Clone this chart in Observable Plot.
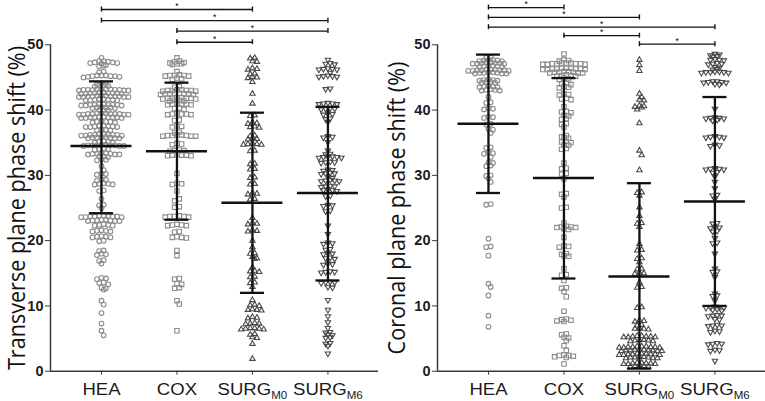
<!DOCTYPE html>
<html><head><meta charset="utf-8">
<script src="https://cdn.jsdelivr.net/npm/d3@7"></script>
<script src="https://cdn.jsdelivr.net/npm/@observablehq/plot@0.6"></script>
<style>
body{margin:0;background:#fff}
#wrap{display:flex;width:765px;height:401px;overflow:hidden}
</style>
</head><body><div id="wrap"></div>
<script>
const groups = ["HEA", "COX", "SURG_M0", "SURG_M6"];
const yTicks = [0, 10, 20, 30, 40, 50];

// ---- Transverse plane phase shift (%) ----
const transHEA = [48.0,
47.5,47.4,47.3,47.5,47.2,47.1,47.3,47.2,
46.8,46.7,46.9,45.9,45.8,
45.2,45.3,45.1,45.2,45.3,45.1,45.2,45.0,45.3,
44.0,44.1,43.9,43.8,43.7,43.8,43.6,
43.1,43.2,43.0,43.1,43.2,43.0,43.1,43.2,43.1,43.0,43.2,43.1,
42.6,42.5,42.7,42.6,42.5,42.6,42.7,42.5,42.6,42.6,
42.1,42.0,42.2,42.1,42.0,42.2,42.1,42.1,42.0,42.2,42.1,42.0,
41.6,41.5,41.7,41.6,41.5,41.6,41.7,41.5,
40.8,40.7,40.9,40.8,40.7,40.8,40.9,40.7,40.8,40.8,
40.4,40.3,40.5,40.4,40.3,40.4,40.0,39.9,40.0,
39.4,39.3,39.5,39.4,39.3,39.4,39.5,39.3,39.4,39.4,39.5,39.3,
38.9,38.8,39.0,38.9,38.8,38.9,39.0,38.8,38.9,38.9,
38.2,38.1,38.3,38.2,38.1,38.2,
37.5,37.4,37.6,37.5,37.4,37.5,37.6,37.4,
37.0,36.9,37.0,36.9,
36.2,36.1,36.3,36.2,36.1,36.2,36.3,36.1,36.2,36.2,
35.8,35.7,35.9,35.8,35.7,35.8,35.9,35.7,
35.1,35.0,35.2,35.1,35.0,
34.6,34.5,34.7,34.6,34.5,34.6,34.7,34.5,34.6,34.6,
34.0,33.9,34.1,34.0,
33.3,33.2,33.4,33.3,33.2,33.3,33.4,33.2,
32.9,32.8,32.9,32.4,32.5,32.3,
31.4,30.8,30.2,30.1,30.3,29.3,29.2,29.4,
28.7,28.6,28.8,28.7,28.6,27.6,27.7,26.4,25.4,25.5,25.0,
23.7,23.6,23.8,23.7,23.6,23.7,23.8,23.6,23.7,23.7,
23.1,23.0,23.2,23.1,23.0,23.1,23.2,23.0,
22.4,22.3,22.5,22.4,22.3,21.5,21.4,21.6,21.5,21.4,
20.6,20.5,20.7,20.6,20.5,20.0,19.9,
18.5,18.4,17.9,17.8,18.0,17.0,16.9,16.5,
14.2,14.1,14.3,13.6,13.5,13.3,12.8,12.7,12.5,
10.8,10.2,8.9,7.3,6.2,5.5];
const transCOX = [48.0,47.4,47.5,47.3,47.1,47.0,47.2,47.1,45.9,
45.3,45.2,45.4,45.3,45.2,45.3,44.8,44.9,44.7,43.6,43.5,
43.0,43.1,42.9,43.0,43.1,42.9,43.0,43.0,
42.5,42.4,42.6,42.5,42.4,42.5,42.6,42.5,
41.8,41.7,41.9,41.8,41.7,41.8,41.9,41.8,41.5,41.4,41.5,41.4,
40.9,40.8,41.0,40.9,40.8,40.9,40.2,40.1,40.3,
39.4,39.3,39.5,39.4,39.3,39.4,38.5,38.4,37.5,37.4,37.6,36.6,36.5,
36.1,36.0,36.2,36.1,36.0,36.1,36.2,36.0,
34.8,34.7,34.9,33.8,33.7,33.9,33.8,
33.1,33.0,33.2,33.1,33.0,33.1,
30.3,28.7,28.6,28.8,27.6,26.4,26.1,25.2,25.1,
23.7,23.6,23.8,23.7,23.6,23.7,22.4,22.3,22.5,22.4,22.3,
21.4,21.3,20.5,20.4,20.6,20.5,18.5,17.7,
14.2,14.1,13.4,13.3,12.8,12.7,10.8,10.3,6.2];
const transM0 = [48.0,47.9,47.5,47.4,46.3,46.2,46.4,45.6,45.5,45.0,44.9,45.1,
44.3,42.5,41.0,39.2,39.1,38.0,37.9,38.1,37.4,37.3,37.5,36.1,36.0,
35.6,35.5,35.7,34.8,34.7,34.9,34.8,34.7,33.8,33.7,31.8,31.7,31.0,30.9,
29.7,29.6,28.7,28.6,27.2,27.1,27.3,26.4,26.3,
23.5,22.6,22.5,22.7,21.6,21.5,21.4,20.0,19.0,18.1,18.0,17.5,17.3,17.2,
15.9,15.3,15.2,15.4,14.5,14.4,13.6,13.5,12.9,10.9,10.1,10.0,10.2,
9.4,9.3,9.5,9.4,8.2,8.1,8.3,7.3,7.2,7.4,7.3,
6.5,6.4,6.6,6.5,6.4,6.6,5.7,5.6,5.2,5.1,4.2,1.9];
const transM6 = [47.7,47.1,47.0,47.2,46.3,46.2,46.4,46.3,46.2,45.7,
45.2,45.1,45.3,45.2,45.1,43.3,43.2,41.0,40.9,41.1,40.9,41.0,
40.2,40.1,40.3,40.2,39.4,39.3,39.5,38.7,38.6,38.2,35.9,35.8,36.0,35.1,
33.8,33.3,33.2,32.8,32.7,32.9,32.8,32.7,32.9,32.0,31.9,32.1,32.0,
30.8,30.7,30.9,30.3,30.2,30.4,30.3,29.7,29.6,29.2,29.1,29.3,29.2,29.1,
28.3,28.2,28.4,28.3,27.7,27.6,27.8,27.7,26.9,26.8,25.4,25.3,25.5,24.6,24.5,
22.3,21.0,19.6,19.5,19.7,18.7,18.6,18.0,17.9,18.1,17.3,17.2,17.4,
16.4,16.3,16.5,15.2,15.1,15.3,15.2,13.6,13.5,13.7,13.6,12.9,12.8,
10.9,9.4,8.4,7.5,6.6,6.0,5.9,5.6,5.5,5.2,5.1,4.3,4.2,3.9,2.7];
const transMean  = [34.5, 33.7, 25.8, 27.3];
const transUpper = [44.4, 44.2, 39.6, 40.5];
const transLower = [24.2, 23.2, 12.0, 13.9];
const transBracketFrom = ["HEA", "HEA", "COX", "COX"];
const transBracketTo   = ["SURG_M0", "SURG_M6", "SURG_M6", "SURG_M0"];
const transBracketY    = [55.4, 53.7, 52.1, 50.4];

// ---- Coronal plane phase shift (%) ----
const corHEA = [48.0,48.1,47.6,47.5,47.7,47.6,47.5,47.7,
47.2,47.1,47.3,47.2,47.1,47.3,47.2,47.1,46.7,46.6,46.8,46.7,46.6,46.8,
46.1,46.0,46.2,46.1,46.0,46.2,46.1,46.0,46.2,46.1,
45.7,45.6,45.8,45.7,45.6,45.8,45.7,45.6,44.6,44.5,44.7,44.6,44.5,
44.3,44.2,44.3,44.2,43.6,43.5,43.7,43.6,43.5,43.1,43.0,43.2,43.1,43.0,
42.0,41.2,41.1,40.2,40.1,40.3,38.9,38.8,39.0,37.9,37.8,37.1,37.0,36.5,
34.3,34.2,33.4,33.3,33.5,32.8,32.0,31.9,31.5,31.4,30.0,29.9,29.5,29.0,
25.6,25.5,20.3,19.0,19.1,17.7,13.4,12.9,11.6,8.5,6.8];
const corCOX = [48.6,47.6,47.5,47.7,47.1,47.0,47.2,47.1,47.0,47.2,47.1,47.0,47.2,47.1,
46.3,46.2,46.4,46.3,46.2,46.4,46.3,46.2,46.4,46.3,45.8,45.7,45.9,45.8,45.7,45.9,45.8,45.7,
45.3,45.2,45.4,45.3,45.2,44.8,44.7,44.9,44.0,43.9,44.1,43.5,43.4,43.6,
42.4,42.3,42.5,41.7,41.6,41.8,40.5,39.7,39.6,39.8,39.2,39.1,38.7,38.6,37.9,37.8,37.4,
36.1,35.8,35.7,35.9,35.1,35.0,35.2,34.7,34.6,34.1,34.0,31.9,31.1,31.0,30.3,30.2,29.5,
27.2,27.1,26.7,25.1,25.0,22.7,22.1,22.0,22.2,22.1,22.0,21.8,21.7,20.5,
19.1,19.0,19.2,18.0,17.9,17.7,17.6,15.7,14.8,14.7,13.9,12.8,12.7,12.2,11.4,9.2,
7.9,7.8,8.0,7.7,7.6,5.7,5.6,5.2,5.1,4.7,3.9,3.2,2.4,2.3,2.5,2.4,2.2,2.1,1.1];
const corM0 = [47.7,46.9,46.0,42.5,42.0,41.6,41.5,40.7,40.5,40.4,40.6,40.1,
38.0,33.8,33.1,30.8,27.4,27.3,26.9,25.1,23.8,22.7,22.6,22.1,
19.5,18.6,18.5,17.3,17.2,16.7,15.7,15.6,15.0,14.9,15.1,13.6,12.9,12.8,9.8,9.7,
7.7,7.6,7.8,7.1,7.0,6.5,6.4,6.6,6.5,
5.3,5.2,5.4,5.3,5.2,5.4,5.3,5.2,4.7,4.6,4.8,4.7,4.6,4.8,
3.7,3.6,3.8,3.7,3.6,3.8,3.7,3.6,3.8,3.7,
3.2,3.1,3.3,3.2,3.1,3.3,3.2,3.1,3.3,3.2,
2.6,2.5,2.7,2.6,2.5,2.7,2.6,2.5,2.7,2.6,
2.1,2.0,2.2,2.1,2.0,2.2,2.1,2.0,
1.2,1.1,1.3,1.2,1.1,1.3,1.2,1.1,0.8,0.7,0.9,0.8,0.7];
const corM6 = [48.5,48.4,48.6,48.3,48.2,47.7,47.6,47.8,47.7,47.1,47.0,47.2,47.1,
46.6,46.5,46.3,46.2,45.8,45.7,45.9,45.8,45.7,45.9,45.8,
44.3,44.2,44.4,44.3,44.2,44.4,44.0,43.9,40.2,
38.8,38.7,38.9,38.8,38.7,38.5,38.4,35.9,35.8,36.0,35.9,35.8,34.6,34.5,34.7,
31.0,30.9,31.1,31.0,30.9,30.5,30.4,29.8,29.0,28.0,27.0,26.9,26.4,
22.7,22.6,22.0,21.9,22.1,21.5,21.4,20.4,19.7,19.6,18.0,
15.7,15.3,15.2,14.4,11.9,11.6,11.5,10.8,
9.8,9.7,9.9,9.8,9.7,9.4,9.3,9.5,8.5,8.4,8.6,8.5,8.0,7.9,
7.0,6.9,7.1,7.0,6.1,6.0,6.2,4.2,4.1,4.3,4.2,3.2,3.1,3.3,1.6];
const corMean  = [37.9, 29.6, 14.5, 26.0];
const corUpper = [48.5, 44.9, 28.8, 42.0];
const corLower = [27.3, 14.2, 0.4, 10.0];
const corBracketFrom = ["HEA", "HEA", "HEA", "COX", "SURG_M0"];
const corBracketTo   = ["COX", "SURG_M0", "SURG_M6", "SURG_M0", "SURG_M6"];
const corBracketY    = [55.7, 54.2, 52.7, 51.4, 50.1];

// inverted triangle symbol
const triangleDown = {
  draw(context, size) {
    const s3 = Math.sqrt(3);
    const y = -Math.sqrt(size / (s3 * 3));
    context.moveTo(0, -y * 2);
    context.lineTo(-s3 * y, y);
    context.lineTo(s3 * y, y);
    context.closePath();
  }
};
const styles = [
  {symbol: "circle", r: 2.35, stroke: "#8c8c8c", w: 4.5},
  {symbol: "square", r: 2.5, stroke: "#8c8c8c", w: 4.7},
  {symbol: "triangle", r: 2.0, stroke: "#4a4a4a", w: 4.5},
  {symbol: triangleDown, r: 2.0, stroke: "#4a4a4a", w: 4.5}
];

const xDomain = [-0.675, 3.67];
const marginTop = 44.3, marginBottom = 30.3, H = 401;

// scatter-dot layout helper (like a dodge transform): points of similar value
// share a row and are spread side by side, adjacent rows staggered
function rowLayout(values, w) {
  const order = values.map((v, i) => ({v, i})).sort((a, b) => b.v - a.v);
  const out = new Array(values.length);
  let row = [], prevVal = null, prevPar = null;
  const flush = () => {
    if (!row.length) return;
    const c = row[0].v;
    let par = row.length % 2 === 1 ? 0 : 1;
    if (prevVal !== null && prevVal - c < 0.8 && par === prevPar) par = 1 - par;
    prevVal = c; prevPar = par;
    const pos = [];
    if (par === 0) { pos.push(0); for (let k = 1; pos.length < row.length; k++) pos.push(k * w, -k * w); }
    else { for (let k = 0; pos.length < row.length; k++) pos.push((k + 0.5) * w, -(k + 0.5) * w); }
    row.forEach((p, j) => out[p.i] = pos[j]);
    row = [];
  };
  for (const p of order) {
    if (row.length && row[0].v - p.v > 0.3) flush();
    row.push(p);
  }
  flush();
  return out;
}

function panel({width, marginLeft, marginRight, title, titleDx, series, mean, upper, lower, bFrom, bTo, bY}) {
  const step = (width - marginLeft - marginRight) / (xDomain[1] - xDomain[0]);
  const idx = groups.map((g, i) => i);
  const dotMarks = series.map((vals, gi) => {
    const off = rowLayout(vals, styles[gi].w);
    const rows = vals.map((v, j) => ({v, x: gi + off[j] / step}));
    return Plot.dot(rows, {x: "x", y: "v", symbol: styles[gi].symbol, r: styles[gi].r,
      stroke: styles[gi].stroke, fill: "none", strokeWidth: 1.1});
  });
  const br = bY.map((y, k) => ({a: groups.indexOf(bFrom[k]), b: groups.indexOf(bTo[k]), y}));
  const capHalf = 12 / step, meanHalf = 30.5 / step;
  const ff = "Liberation Sans, Arial, sans-serif";
  const svg = Plot.plot({
    width, height: H, marginLeft, marginRight, marginTop, marginBottom,
    style: {background: "#fff", color: "#1a1a1a", overflow: "visible"},
    x: {type: "linear", domain: xDomain, axis: null},
    y: {domain: [0, 50], axis: null},
    marks: [
      ...dotMarks,
      Plot.ruleX(idx, {x: i => i, y1: i => lower[i], y2: i => upper[i], strokeWidth: 2.3, stroke: "#111"}),
      Plot.ruleY(idx, {x1: i => i - capHalf, x2: i => i + capHalf, y: i => upper[i], strokeWidth: 2.3, stroke: "#111"}),
      Plot.ruleY(idx, {x1: i => i - capHalf, x2: i => i + capHalf, y: i => lower[i], strokeWidth: 2.3, stroke: "#111"}),
      Plot.ruleY(idx, {x1: i => i - meanHalf, x2: i => i + meanHalf, y: i => mean[i], strokeWidth: 2.4, stroke: "#111"}),
      Plot.ruleX([xDomain[0]], {y1: 0, y2: 50, strokeWidth: 1.5, stroke: "#3a3a3a"}),
      Plot.ruleY([0], {x1: xDomain[0], x2: xDomain[1], strokeWidth: 1.5, stroke: "#3a3a3a"}),
      Plot.axisY({ticks: yTicks, tickSize: 5, tickPadding: 2, fontSize: 14.5, fontWeight: "bold",
        fontFamily: ff, label: null, stroke: "#3a3a3a"}),
      Plot.axisX({ticks: [0, 1, 2, 3], tickFormat: i => groups[i], tickSize: 4, tickPadding: 8,
        fontSize: 16, fontFamily: ff, label: null, stroke: "#3a3a3a"}),
      Plot.ruleY(br, {x1: "a", x2: "b", y: "y", strokeWidth: 1.4, stroke: "#111"}),
      Plot.ruleX(br, {x: "a", y1: d => d.y - 0.38, y2: d => d.y + 0.38, strokeWidth: 1.4, stroke: "#111"}),
      Plot.ruleX(br, {x: "b", y1: d => d.y - 0.38, y2: d => d.y + 0.38, strokeWidth: 1.4, stroke: "#111"}),
      Plot.text(br, {x: d => (d.a + d.b) / 2, y: "y", text: () => "*", dy: -3, fontSize: 8.5, fontFamily: ff, fill: "black"}),
      Plot.text([title], {frameAnchor: "left", textAnchor: "middle", lineAnchor: "middle", dx: titleDx, rotate: -90,
        fontSize: 21.6, fontFamily: "Open Sans, sans-serif", fill: "#111"})
    ]
  });
  const root = d3.select(svg);
  // subscripts in category labels, slightly wide lettering like the original
  root.selectAll("text").each(function() {
    const t = this.textContent;
    const sel = d3.select(this);
    if (groups.includes(t)) {
      const tr = sel.attr("transform") || "";
      sel.attr("transform", tr + " scale(1.16,1)");
      if (t.startsWith("SURG_")) {
        sel.text("SURG");
        sel.append("tspan").attr("font-size", 10).attr("dy", "0.45em").text(t.split("_")[1]);
      }
    } else if (t === title) {
      const tr = sel.attr("transform") || "";
      sel.attr("transform", tr + " scale(1,1.1)");
    }
  });
  return svg;
}

const wrap = document.getElementById("wrap");
wrap.appendChild(panel({width: 385, marginLeft: 50, marginRight: 7,
  title: "Transverse plane phase shift (%)", titleDx: -33,
  series: [transHEA, transCOX, transM0, transM6],
  mean: transMean, upper: transUpper, lower: transLower,
  bFrom: transBracketFrom, bTo: transBracketTo, bY: transBracketY}));
wrap.appendChild(panel({width: 380, marginLeft: 52, marginRight: 0,
  title: "Coronal plane phase shift (%)", titleDx: -40,
  series: [corHEA, corCOX, corM0, corM6],
  mean: corMean, upper: corUpper, lower: corLower,
  bFrom: corBracketFrom, bTo: corBracketTo, bY: corBracketY}));
</script></body></html>
